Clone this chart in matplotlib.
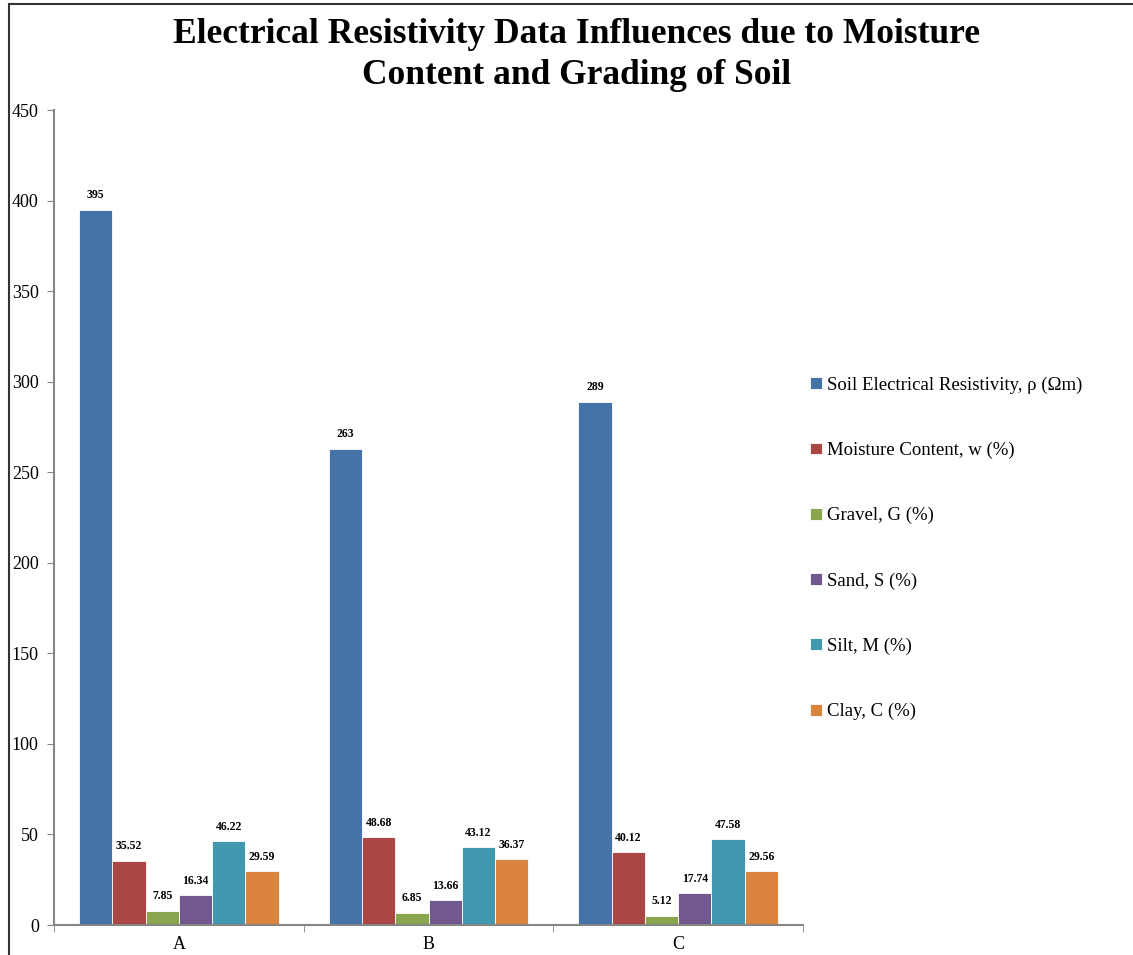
import numpy as np
import matplotlib.pyplot as plt
from matplotlib.patches import Rectangle

plt.rcParams['font.family'] = ['Liberation Serif', 'DejaVu Serif']

categories = ['A', 'B', 'C']
series_names = ['Soil Electrical Resistivity, ρ (Ωm)', 'Moisture Content, w (%)',
                'Gravel, G (%)', 'Sand, S (%)', 'Silt, M (%)', 'Clay, C (%)']
resistivity = [395, 263, 289]
moisture = [35.52, 48.68, 40.12]
gravel = [7.85, 6.85, 5.12]
sand = [16.34, 13.66, 17.74]
silt = [46.22, 43.12, 47.58]
clay = [29.59, 36.37, 29.56]
colors = ['#4572A7', '#AA4643', '#89A54E', '#71588F', '#4198AF', '#DB843D']

series = [resistivity, moisture, gravel, sand, silt, clay]

fig = plt.figure(figsize=(11.33, 9.55), dpi=100)
ax = fig.add_axes([0.0477, 0.0314, 0.661, 0.8534])

x = np.arange(len(categories))
n = len(series)
width = 0.8 / n
for i, (vals, name, c) in enumerate(zip(series, series_names, colors)):
    pos = x - 0.4 + width * (i + 0.5)
    bars = ax.bar(pos, vals, width, color=c, label=name, edgecolor='white', linewidth=0.6)
    for b, v in zip(bars, vals):
        txt = f'{v:g}' if v >= 100 else f'{v:.2f}'
        ax.annotate(txt, (b.get_x() + b.get_width() / 2, v), xytext=(0, 6),
                    textcoords='offset points', ha='center', va='bottom',
                    fontsize=8.5, fontweight='bold')

ax.set_xlim(-0.5, 2.5)
ax.set_ylim(0, 450)
ax.set_yticks(range(0, 451, 50))
ax.set_xticks(x)
ax.set_xticklabels(categories)
ax.set_xticks([-0.5, 0.5, 1.5, 2.5], minor=True)
ax.tick_params(axis='x', which='major', length=0, pad=8, labelsize=13)
ax.tick_params(axis='x', which='minor', length=5, color='#868686')
ax.tick_params(axis='y', length=5, color='#868686', labelsize=13, pad=6)
for s in ['top', 'right']:
    ax.spines[s].set_visible(False)
for s in ['left', 'bottom']:
    ax.spines[s].set_color('#868686')
    ax.spines[s].set_linewidth(1.5)

fig.text(0.509, 0.9425, 'Electrical Resistivity Data Influences due to Moisture\nContent and Grading of Soil',
         ha='center', va='center', fontsize=25.5, fontweight='bold', linespacing=1.33)

ax.legend(loc='center left', bbox_to_anchor=(1.0, 0.462), frameon=False, fontsize=13.5,
          handlelength=0.6, handleheight=0.6, handletextpad=0.3, labelspacing=2.56,
          borderaxespad=0)

fig.patches.append(Rectangle((9 / 1133, -0.1), 2, 1 - 4 / 955 + 0.1, transform=fig.transFigure,
                             fill=False, edgecolor='#333333', linewidth=1.5, clip_on=False))

fig.savefig('out.png', dpi=100)
